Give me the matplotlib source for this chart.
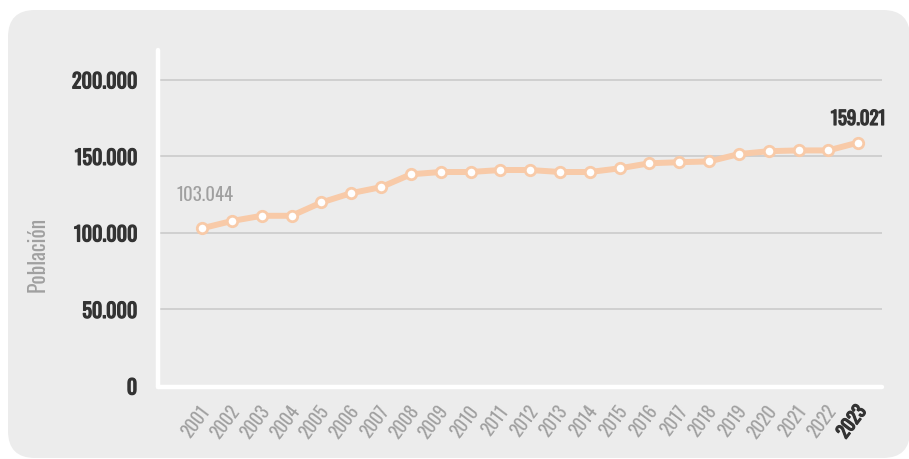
import matplotlib

matplotlib.use("Agg")
import matplotlib.pyplot as plt
import matplotlib.patches as mpatches
import matplotlib.patheffects as pe
import matplotlib.transforms as mtransforms
import numpy as np

# --- datos ---
years = [str(y) for y in range(2001, 2024)]
poblacion = [
    103044, 107800, 111200, 111200, 119900, 126000, 129900, 138300,
    139800, 139800, 141100, 141100, 139800, 139800, 142200, 145500,
    146200, 146700, 151500, 153400, 153900, 153900, 159021,
]
y_ticks = [0, 50000, 100000, 150000, 200000]
y_labels = ["0", "50.000", "100.000", "150.000", "200.000"]

FONT = ["Oswald", "DejaVu Sans"]
LINE_C = "#f8caa8"
BG = "#ececec"
GREY_TXT = "#a0a0a0"
DARK_TXT = "#333333"
# Oswald solo tiene un peso instalado: negrita simulada con un trazo
BOLD = [pe.withStroke(linewidth=0.9, foreground=DARK_TXT)]

fig = plt.figure(figsize=(9.09, 4.59), dpi=100, facecolor="white")

# fondo gris redondeado (coordenadas en pulgadas)
bg = mpatches.FancyBboxPatch(
    (0.08, 0.01), 9.02, 4.48,
    boxstyle="round,pad=0,rounding_size=0.27",
    transform=fig.dpi_scale_trans, facecolor=BG, edgecolor="none", zorder=-10,
)
fig.patches.append(bg)

ax = fig.add_axes([158 / 909, 72 / 459, 724 / 909, 337 / 459])
ax.set_facecolor("none")
ax.set_zorder(2)

x = np.arange(len(years))
ax.plot(x, poblacion, color=LINE_C, lw=4.3, solid_capstyle="round", zorder=3)
ax.plot(x, poblacion, "o", ms=7.5, mfc="white", mec=LINE_C, mew=2.0, zorder=4)

ax.set_xlim(-1.48, len(years) - 1 + 0.8)
ax.set_ylim(-650, 219500)

ax.set_yticks(y_ticks)
ax.set_yticklabels(y_labels, fontfamily=FONT, fontsize=14.5, color=DARK_TXT)
for t in ax.get_yticklabels():
    t.set_path_effects(BOLD)
ax.tick_params(axis="y", length=0, pad=15)

ax.set_xticks(x)
ax.set_xticklabels(years, fontfamily=FONT, fontsize=13, color=GREY_TXT,
                   rotation=53, ha="right", va="center", rotation_mode="anchor")
ax.tick_params(axis="x", length=0, pad=15)
shift = mtransforms.ScaledTranslation(0.04, 0, fig.dpi_scale_trans)
for t in ax.get_xticklabels():
    t.set_transform(t.get_transform() + shift)
last = ax.get_xticklabels()[-1]
last.set_color(DARK_TXT)
last.set_path_effects(BOLD)

ax.grid(axis="y", color="#c8c8c8", lw=1.1)
ax.set_axisbelow(True)
for s in ("top", "right"):
    ax.spines[s].set_visible(False)
for s in ("left", "bottom"):
    ax.spines[s].set_color("white")
    ax.spines[s].set_linewidth(3.2)
    ax.spines[s].set_capstyle("round")
    ax.spines[s].set_zorder(5)

# etiquetas de primer y último valor
ax.annotate("103.044", (x[0], poblacion[0]), xytext=(2, 24), textcoords="offset points",
            ha="center", va="center", fontfamily=FONT, fontsize=13.5, color=GREY_TXT)
ax.annotate("159.021", (x[-1], poblacion[-1]), xytext=(0, 17), textcoords="offset points",
            ha="center", va="center", fontfamily=FONT, fontsize=13.5, color=DARK_TXT,
            path_effects=BOLD)

fig.text(38 / 909, 1 - 254 / 459, "Población", rotation=90, ha="center", va="center",
         fontfamily=FONT, fontsize=15.5, color=GREY_TXT)

fig.savefig("out.png", dpi=100, facecolor="white")
